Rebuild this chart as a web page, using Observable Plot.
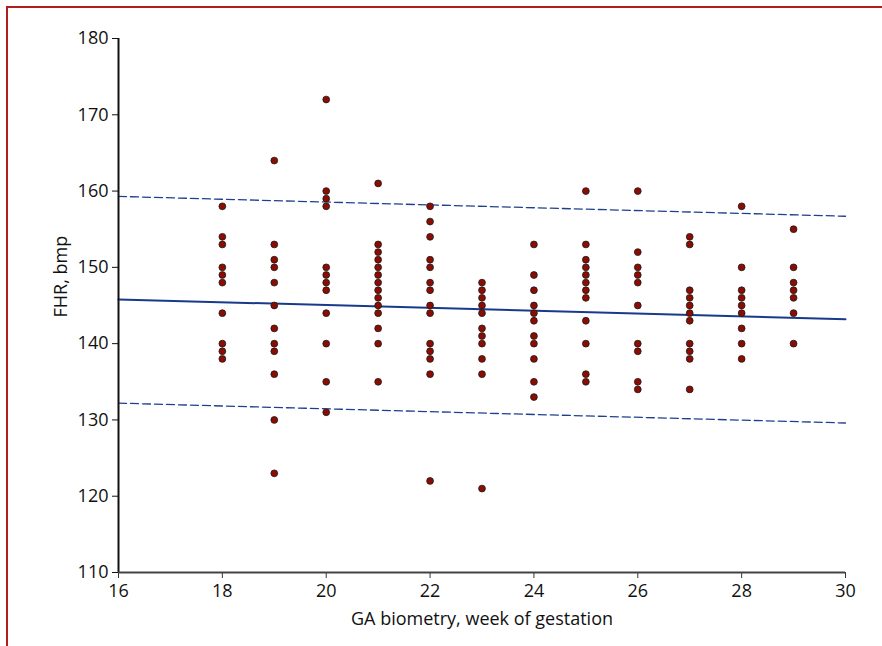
<!DOCTYPE html>
<html><head><meta charset="utf-8">
<script src="https://cdn.jsdelivr.net/npm/d3@7"></script>
<script src="https://cdn.jsdelivr.net/npm/@observablehq/plot@0.6"></script>
<style>
body{margin:0;background:#fff;}
#wrap{position:relative;width:882px;height:646px;overflow:hidden;}
#frame{position:absolute;left:6px;top:6px;right:-10px;bottom:-10px;border-left:2px solid #b01e1e;border-top:2px solid #b01e1e;}
#chart{position:absolute;left:0;top:0;}
</style></head><body><div id="wrap"><div id="frame"></div><div id="chart"></div></div>
<script>
const weeks = [18, 19, 20, 21, 22, 23, 24, 25, 26, 27, 28, 29];
const fhr18 = [158, 154, 153, 150, 149, 148, 144, 140, 139, 138];
const fhr19 = [164, 153, 151, 150, 148, 145, 142, 140, 139, 136, 130, 123];
const fhr20 = [172, 160, 159, 158, 150, 149, 148, 147, 144, 140, 135, 131];
const fhr21 = [161, 153, 152, 151, 150, 149, 148, 147, 146, 145, 144, 142, 140, 135];
const fhr22 = [158, 156, 154, 151, 150, 148, 147, 145, 144, 140, 139, 138, 136, 122];
const fhr23 = [148, 147, 146, 145, 144, 142, 141, 140, 138, 136, 121];
const fhr24 = [153, 149, 147, 145, 144, 143, 141, 140, 138, 135, 133];
const fhr25 = [160, 153, 151, 150, 149, 148, 147, 146, 143, 140, 136, 135];
const fhr26 = [160, 152, 150, 149, 148, 145, 140, 139, 135, 134];
const fhr27 = [154, 153, 147, 146, 145, 144, 143, 140, 139, 138, 134];
const fhr28 = [158, 150, 147, 146, 145, 144, 142, 140, 138];
const fhr29 = [155, 150, 148, 147, 146, 144, 140];
const fhrByWeek = [fhr18, fhr19, fhr20, fhr21, fhr22, fhr23, fhr24, fhr25, fhr26, fhr27, fhr28, fhr29];

const fitX = [16, 30];
const fitY = [145.8, 143.2];
const upperY = [159.3, 156.7];
const lowerY = [132.2, 129.6];

const xTicks = [16, 18, 20, 22, 24, 26, 28, 30];
const yTicks = [110, 120, 130, 140, 150, 160, 170, 180];
const xLabel = "GA biometry, week of gestation";
const yLabel = "FHR, bmp";

const points = weeks.flatMap((w, i) => fhrByWeek[i].map(v => ({week: w, fhr: v})));
const lineData = (ys) => fitX.map((x, i) => ({x, y: ys[i]}));

const chart = Plot.plot({
  width: 882, height: 646,
  marginLeft: 118, marginRight: 37, marginTop: 38, marginBottom: 74,
  style: {fontFamily: "'Open Sans', sans-serif", fontSize: "18px", color: "#111", background: "transparent"},
  x: {domain: [16, 30]},
  y: {domain: [110, 180]},
  marks: [
    Plot.axisY({ticks: yTicks, tickSize: 6, tickPadding: 4, label: null, fontSize: 18, stroke: "#111"}),
    Plot.axisX({ticks: xTicks, tickSize: 6, tickPadding: 6, label: null, fontSize: 18, stroke: "#333"}),
    Plot.line(lineData(upperY), {x: "x", y: "y", stroke: "#1f3f8f", strokeWidth: 1.3, strokeDasharray: "8,4"}),
    Plot.line(lineData(lowerY), {x: "x", y: "y", stroke: "#1f3f8f", strokeWidth: 1.3, strokeDasharray: "8,4"}),
    Plot.line(lineData(fitY), {x: "x", y: "y", stroke: "#183a8a", strokeWidth: 2}),
    Plot.dot(points, {x: "week", y: "fhr", r: 3.4, fill: "#8b0c02", stroke: "#1a1a1a", strokeWidth: 0.8}),
    Plot.ruleX([16], {y1: 110, y2: 180, stroke: "#111", strokeWidth: 2}),
    Plot.ruleY([110], {x1: 16, x2: 30, stroke: "#444", strokeWidth: 2}),
    Plot.text([xLabel], {frameAnchor: "bottom", dy: 52, fontSize: 18, fill: "#111"}),
    Plot.text([yLabel], {frameAnchor: "left", rotate: -90, dx: -57, dy: 12, fontSize: 18, fill: "#111"})
  ]
});
document.getElementById("chart").appendChild(chart);
</script>
</body></html>
